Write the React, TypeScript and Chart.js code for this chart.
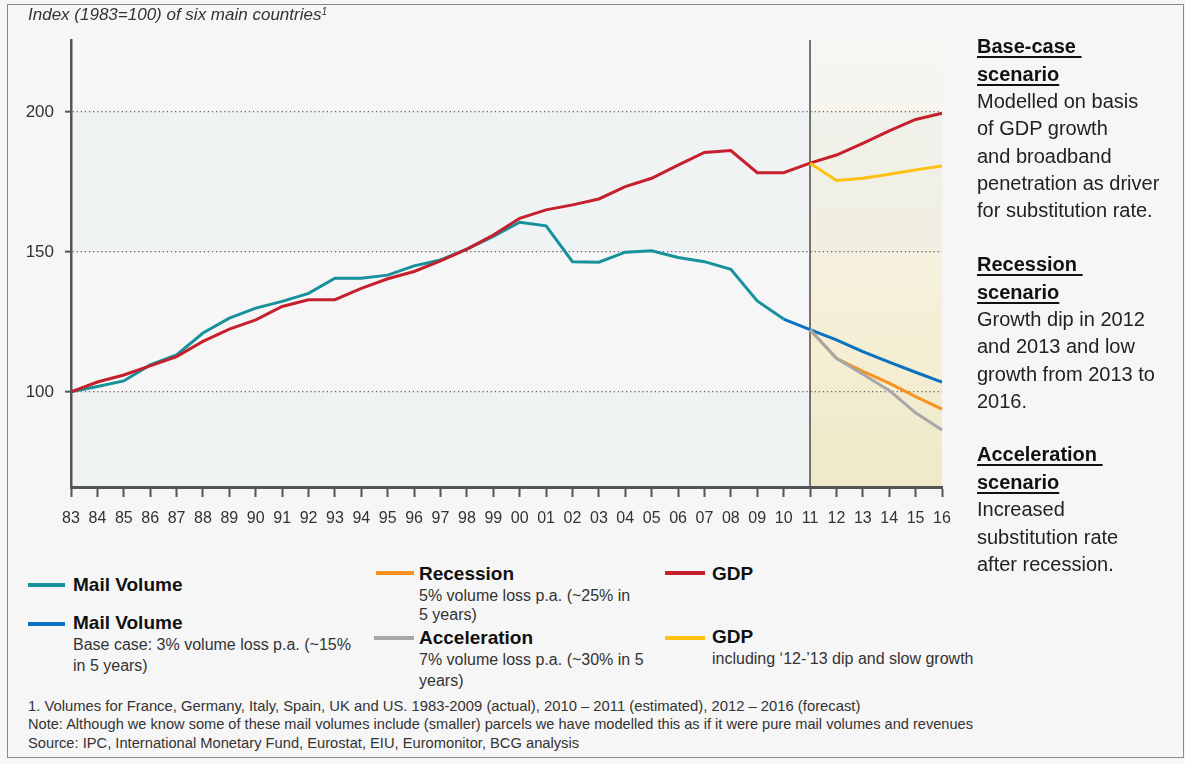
import React, { useEffect, useRef } from 'react';
import { Chart, registerables } from 'chart.js';

Chart.register(...registerables);

// ---- data ----
const years = [
  '83', '84', '85', '86', '87', '88', '89', '90', '91', '92', '93', '94', '95', '96', '97', '98', '99',
  '00', '01', '02', '03', '04', '05', '06', '07', '08', '09', '10', '11', '12', '13', '14', '15', '16',
];
// 1983–2010 actual / estimated
const mailVolumeActual = [
  100, 101.9, 103.9, 109.6, 113.2, 121, 126.3, 129.9, 132.3, 135.2, 140.6, 140.6, 141.7, 145,
  147.1, 151, 155.5, 160.6, 159.3, 146.5, 146.3, 149.9, 150.4, 148, 146.5, 143.8, 132.5, 126,
];
// 2010–2016 base case
const mailVolumeBase = [126, 122.2, 118.6, 114.4, 110.6, 107, 103.5];
// 2011–2016
const recession = [122.2, 112, 107.3, 103.1, 98.3, 93.8];
const acceleration = [122.2, 112, 106.3, 100.5, 92.5, 86.4];
// 1983–2016
const gdp = [
  100, 103.5, 106, 109.3, 112.6, 118, 122.4, 125.7, 130.5, 132.9, 132.9, 137, 140.4, 143, 146.8,
  151, 156, 162, 165, 166.8, 168.9, 173.3, 176.3, 181, 185.5, 186.2, 178.3, 178.3, 181.7, 184.6,
  188.8, 193.2, 197.3, 199.5,
];
// 2011–2016
const gdpDip = [181.7, 175.5, 176.3, 177.7, 179.3, 180.7];
const yTicks = [100, 150, 200];
const forecastStart = '11';

function place(startLabel: string, values: number[]) {
  const start = years.indexOf(startLabel);
  return years.map((_, i) => (i >= start && i - start < values.length ? values[i - start] : null));
}

const FONT = "'Liberation Sans', Arial, Helvetica, sans-serif";

const C = {
  teal: '#17919c',
  blue: '#0a72c0',
  orange: '#f7931e',
  grey: '#a7a7a7',
  red: '#c5202b',
  yellow: '#fdc20f',
  axis: '#555555',
};

const backgroundPlugin = {
  id: 'periodBackground',
  beforeDraw(chart: any) {
    const { ctx, chartArea, scales } = chart;
    const x = scales.x;
    const y = scales.y;
    const { left, right, top, bottom } = chartArea;
    const xf = x.getPixelForValue(years.indexOf(forecastStart));
    const yA = y.getPixelForValue(yTicks[2]);
    const yB = y.getPixelForValue(yTicks[1]);
    const yC = y.getPixelForValue(yTicks[0]);
    ctx.save();
    ctx.fillStyle = '#eff3f4';
    ctx.fillRect(left, yA, xf - left, yB - yA);
    ctx.fillRect(left, yC, xf - left, bottom - yC);
    const g = ctx.createLinearGradient(0, top, 0, bottom);
    g.addColorStop(0, '#f6f6f4');
    g.addColorStop(0.4, '#f6f2e2');
    g.addColorStop(1, '#f3eac6');
    ctx.fillStyle = g;
    ctx.fillRect(xf, top, right - xf, bottom - top);
    ctx.fillStyle = 'rgba(200,222,228,0.13)';
    ctx.fillRect(xf, yA, right - xf, yB - yA);
    ctx.fillStyle = 'rgba(200,222,228,0.05)';
    ctx.fillRect(xf, yC, right - xf, bottom - yC);
    ctx.restore();
  },
  beforeDatasetsDraw(chart: any) {
    const { ctx, chartArea, scales } = chart;
    const xf = scales.x.getPixelForValue(years.indexOf(forecastStart));
    ctx.save();
    ctx.strokeStyle = C.axis;
    ctx.lineWidth = 1.6;
    ctx.beginPath();
    ctx.moveTo(xf, chartArea.top);
    ctx.lineTo(xf, chartArea.bottom);
    ctx.stroke();
    ctx.restore();
  },
};

function line(data: (number | null)[], color: string, order: number) {
  return {
    data,
    borderColor: color,
    backgroundColor: color,
    borderWidth: 3,
    pointRadius: 0,
    pointHoverRadius: 0,
    tension: 0,
    spanGaps: false,
    fill: false,
    order,
  };
}

function ChartCanvas() {
  const ref = useRef<HTMLCanvasElement | null>(null);
  useEffect(() => {
    if (!ref.current) return;
    const chart = new Chart(ref.current, {
      type: 'line',
      data: {
        labels: years,
        datasets: [
          line(place('83', mailVolumeActual), C.teal, 6),
          line(place('10', mailVolumeBase), C.blue, 5),
          line(place('11', recession), C.orange, 4),
          line(place('11', acceleration), C.grey, 3),
          line(place('83', gdp), C.red, 2),
          line(place('11', gdpDip), C.yellow, 1),
        ] as any,
      },
      options: {
        animation: false,
        responsive: false,
        devicePixelRatio: 1,
        events: [],
        layout: { padding: { left: 0, right: 243, top: 40, bottom: 0 } },
        plugins: { legend: { display: false }, tooltip: { enabled: false }, title: { display: false } },
        scales: {
          x: {
            type: 'category',
            offset: false,
            afterFit(scale: any) {
              scale.height = 53;
            },
            grid: {
              display: true,
              drawOnChartArea: false,
              drawTicks: true,
              tickLength: 10,
              tickWidth: 2,
              tickColor: C.axis,
            },
            border: { display: true, color: C.axis, width: 3 },
            ticks: {
              autoSkip: false,
              maxRotation: 0,
              minRotation: 0,
              padding: 12,
              color: '#333333',
              font: { family: FONT, size: 16 },
            },
          },
          y: {
            type: 'linear',
            min: 66,
            max: 225.7,
            afterFit(scale: any) {
              scale.width = 71;
            },
            afterBuildTicks(scale: any) {
              scale.ticks = yTicks.map((v) => ({ value: v }));
            },
            grid: {
              display: true,
              drawOnChartArea: true,
              drawTicks: true,
              tickLength: 6,
              tickWidth: 2,
              tickColor: C.axis,
              tickBorderDash: [],
              color: '#666666',
              lineWidth: 1.3,
            } as any,
            border: { display: true, color: C.axis, width: 2.5, dash: [1.3, 2.8] } as any,
            ticks: {
              padding: 11,
              color: '#333333',
              font: { family: FONT, size: 17 },
            },
          },
        },
      } as any,
      plugins: [backgroundPlugin],
    });
    return () => chart.destroy();
  }, []);
  return (
    <canvas
      ref={ref}
      width={1185}
      height={540}
      style={{ position: 'absolute', left: 0, top: 0, width: 1185, height: 540 }}
    />
  );
}

function Txt(props: {
  x: number;
  y: number;
  size: number;
  lh: number;
  bold?: boolean;
  italic?: boolean;
  color?: string;
  children: React.ReactNode;
}) {
  const { x, y, size, lh, bold, italic, color, children } = props;
  return (
    <div
      style={{
        position: 'absolute',
        left: x,
        top: y - lh / 2,
        fontSize: size,
        lineHeight: lh + 'px',
        fontWeight: bold ? 700 : 400,
        fontStyle: italic ? 'italic' : 'normal',
        color: color || '#222',
        whiteSpace: 'nowrap',
        fontFamily: FONT,
      }}
    >
      {children}
    </div>
  );
}

function Swatch({ x, y, w, color }: { x: number; y: number; w: number; color: string }) {
  return (
    <div style={{ position: 'absolute', left: x, top: y - 1.75, width: w, height: 3.5, background: color }} />
  );
}

const ul: React.CSSProperties = {
  textDecoration: 'underline',
  textDecorationThickness: '2px',
  textUnderlineOffset: '3px',
};

export default function App() {
  return (
    <div
      style={{
        position: 'fixed',
        left: 0,
        top: 0,
        width: 1185,
        height: 764,
        overflow: 'hidden',
        background: '#f6f6f6',
        fontFamily: FONT,
      }}
    >
      <div
        style={{
          position: 'absolute',
          left: 7,
          top: 4,
          width: 1175,
          height: 752,
          border: '1px solid #8a8a8a',
        }}
      />
      <ChartCanvas />

      <Txt x={28} y={15} size={17} lh={20} italic color="#333">
        Index (1983=100) of six main countries<sup style={{ fontSize: 10, verticalAlign: 'top', lineHeight: '14px' }}>1</sup>
      </Txt>

      {/* right panel */}
      <div
        style={{
          position: 'absolute',
          left: 977,
          top: 47 - 13.65,
          fontSize: 20,
          lineHeight: '27.3px',
          color: '#222',
          whiteSpace: 'nowrap',
        }}
      >
        <b style={{ ...ul, color: '#111' }}>Base-case&nbsp;</b>
        <br />
        <b style={{ ...ul, color: '#111' }}>scenario</b>
        <br />
        Modelled on basis
        <br />
        of GDP growth
        <br />
        and broadband
        <br />
        penetration as driver
        <br />
        for substitution rate.
      </div>
      <div
        style={{
          position: 'absolute',
          left: 977,
          top: 265 - 13.65,
          fontSize: 20,
          lineHeight: '27.3px',
          color: '#222',
          whiteSpace: 'nowrap',
        }}
      >
        <b style={{ ...ul, color: '#111' }}>Recession&nbsp;</b>
        <br />
        <b style={{ ...ul, color: '#111' }}>scenario</b>
        <br />
        Growth dip in 2012
        <br />
        and 2013 and low
        <br />
        growth from 2013 to
        <br />
        2016.
      </div>
      <div
        style={{
          position: 'absolute',
          left: 977,
          top: 455 - 13.65,
          fontSize: 20,
          lineHeight: '27.5px',
          color: '#222',
          whiteSpace: 'nowrap',
        }}
      >
        <b style={{ ...ul, color: '#111' }}>Acceleration&nbsp;</b>
        <br />
        <b style={{ ...ul, color: '#111' }}>scenario</b>
        <br />
        Increased
        <br />
        substitution rate
        <br />
        after recession.
      </div>

      {/* legend column 1 */}
      <Swatch x={28} y={585} w={37} color={C.teal} />
      <Txt x={73} y={585} size={19} lh={22} bold color="#111">Mail Volume</Txt>
      <Swatch x={28} y={624} w={37} color={C.blue} />
      <Txt x={73} y={623} size={19} lh={22} bold color="#111">Mail Volume</Txt>
      <Txt x={73} y={645} size={16} lh={20} color="#333">Base case: 3% volume loss p.a. (~15%</Txt>
      <Txt x={73} y={666} size={16} lh={20} color="#333">in 5 years)</Txt>

      {/* legend column 2 */}
      <Swatch x={376} y={573} w={38} color={C.orange} />
      <Txt x={419} y={574} size={19} lh={22} bold color="#111">Recession</Txt>
      <Txt x={419} y={596} size={16} lh={20} color="#333">5% volume loss p.a. (~25% in</Txt>
      <Txt x={419} y={615} size={16} lh={20} color="#333">5 years)</Txt>
      <Swatch x={374} y={638} w={40} color={C.grey} />
      <Txt x={419} y={638} size={19} lh={22} bold color="#111">Acceleration</Txt>
      <Txt x={419} y={660} size={16} lh={20} color="#333">7% volume loss p.a. (~30% in 5</Txt>
      <Txt x={419} y={681} size={16} lh={20} color="#333">years)</Txt>

      {/* legend column 3 */}
      <Swatch x={665} y={573} w={40} color={C.red} />
      <Txt x={712} y={574} size={19} lh={22} bold color="#111">GDP</Txt>
      <Swatch x={665} y={638} w={40} color={C.yellow} />
      <Txt x={712} y={637} size={19} lh={22} bold color="#111">GDP</Txt>
      <Txt x={712} y={659} size={16} lh={20} color="#333">including ‘12-’13 dip and slow growth</Txt>

      {/* footnotes */}
      <Txt x={28} y={706} size={14.8} lh={19} color="#333">
        1. Volumes for France, Germany, Italy, Spain, UK and US. 1983-2009 (actual), 2010 – 2011 (estimated), 2012 – 2016 (forecast)
      </Txt>
      <Txt x={28} y={724.5} size={14.6} lh={19} color="#333">
        Note: Although we know some of these mail volumes include (smaller) parcels we have modelled this as if it were pure mail volumes and revenues
      </Txt>
      <Txt x={28} y={743.5} size={14.7} lh={19} color="#333">
        Source: IPC, International Monetary Fund, Eurostat, EIU, Euromonitor, BCG analysis
      </Txt>
    </div>
  );
}
